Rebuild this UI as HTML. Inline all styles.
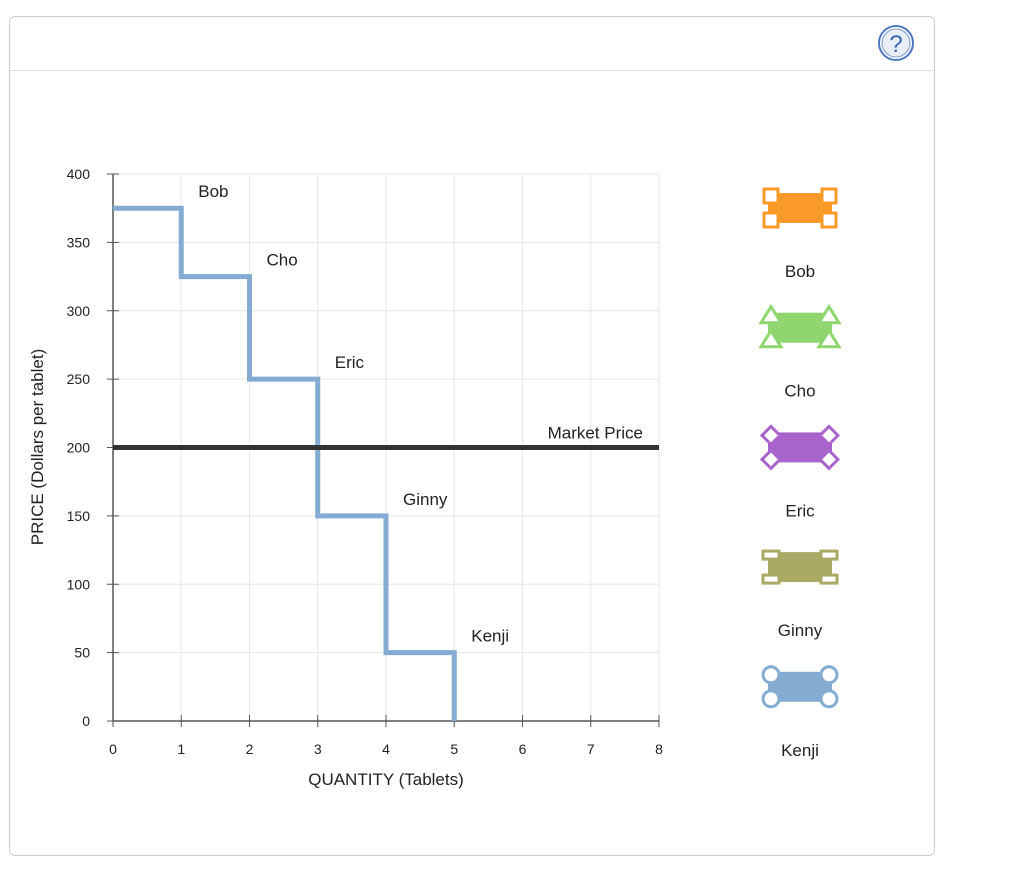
<!DOCTYPE html>
<html><head><meta charset="utf-8"><style>
body{margin:0;background:#fff;font-family:"Liberation Sans",Arial,sans-serif;}
#frame{position:absolute;left:9px;top:16px;width:924px;height:838px;border:1px solid #ccc;border-radius:6px;}
#hdr{position:absolute;left:10px;top:70px;width:923px;height:1px;background:#ddd;}
</style></head><body>
<div id="frame"></div>
<div id="hdr"></div>
<svg width="1024" height="887" style="position:absolute;left:0;top:0" id="svg">
<g>
<circle cx="896" cy="43" r="17" fill="#fff" stroke="#4a78c2" stroke-width="2"/>
<circle cx="896" cy="43" r="14" fill="#e8eef8" stroke="#7a9ad2" stroke-width="1"/>
<text x="896" y="52" font-size="24" text-anchor="middle" fill="#3a66b0" font-family="Liberation Sans">?</text>
</g>
</svg>
<script>
const xTicks=[0,1,2,3,4,5,6,7,8];
const yTicks=[0,50,100,150,200,250,300,350,400];
const stepQ=[0,1,2,3,4,5];
const stepP=[375,325,250,150,50,0];
const names=["Bob","Cho","Eric","Ginny","Kenji"];
const marketPrice=200;
const X=v=>113+v*68.25, Y=v=>721-v*1.3675;
const s=document.getElementById('svg'),NS="http://www.w3.org/2000/svg";
function mk(t,a,p){const e=document.createElementNS(NS,t);for(const k in a)e.setAttribute(k,a[k]);(p||s).appendChild(e);return e;}
xTicks.forEach(v=>{let l=mk('line',{x1:X(v),x2:X(v),y1:Y(400),y2:Y(0),stroke:'#e6e6e6'});

let t=mk('line',{x1:X(v),x2:X(v),y1:Y(0)-6,y2:Y(0)+6,stroke:'#555'});

let tx=mk('text',{x:X(v),y:754,'font-size':14,'text-anchor':'middle',fill:'#222'});tx.textContent=v;
});
yTicks.forEach(v=>{let l=mk('line',{x1:X(0),x2:X(8),y1:Y(v),y2:Y(v),stroke:'#e6e6e6'});

let t=mk('line',{x1:X(0)-6,x2:X(0)+6,y1:Y(v),y2:Y(v),stroke:'#555'});

let tx=mk('text',{x:90,y:Y(v)+5,'font-size':14,'text-anchor':'end',fill:'#222'});tx.textContent=v;
});
let ax=mk('line',{x1:X(0),x2:X(0),y1:Y(400),y2:Y(0),stroke:'#555','stroke-width':1.5});

let ax2=mk('line',{x1:X(0),x2:X(8),y1:Y(0),y2:Y(0),stroke:'#555','stroke-width':1.5});

let d='M'+X(stepQ[0])+' '+Y(stepP[0]);
for(let i=1;i<stepQ.length;i++){d+=' L'+X(stepQ[i])+' '+Y(stepP[i-1])+' L'+X(stepQ[i])+' '+Y(stepP[i]);}
let p=mk('path',{d:d,fill:'none',stroke:'#84acd3','stroke-width':5});

let mp=mk('line',{x1:X(0),x2:X(8),y1:Y(marketPrice),y2:Y(marketPrice),stroke:'#333','stroke-width':5});

let mpt=mk('text',{x:643,y:Y(marketPrice)-9,'font-size':17,'text-anchor':'end',fill:'#222'});mpt.textContent='Market Price';

names.forEach((n,i)=>{let t=mk('text',{x:X(i+1)+17,y:Y(stepP[i])-11,'font-size':17,fill:'#222'});t.textContent=n;
});
let xt=mk('text',{x:386,y:785,'font-size':17,'text-anchor':'middle',fill:'#222'});xt.textContent='QUANTITY (Tablets)';

let yt=mk('text',{x:0,y:0,'font-size':17,'text-anchor':'middle',fill:'#222',transform:'translate(43,447) rotate(-90)'});yt.textContent='PRICE (Dollars per tablet)';

const cols=['#fa9a28','#8ed66d','#a964cc','#aaaa66','#84acd3'];
names.forEach((n,i)=>{const cy=208+i*119.7,cx=800;
const g=mk('g',{});


mk('rect',{x:cx-32,y:cy-15,width:64,height:30,fill:cols[i]},g);
[[-29,-12],[29,-12],[-29,12],[29,12]].forEach(([dx,dy])=>{const x=cx+dx,y=cy+dy;
if(i==0)mk('rect',{x:x-7,y:y-7,width:14,height:14,fill:'#fff',stroke:cols[i],'stroke-width':3},g);
else if(i==1)mk('polygon',{points:`${x},${y-9} ${x+10},${y+7} ${x-10},${y+7}`,fill:'#fff',stroke:cols[i],'stroke-width':3},g);
else if(i==2)mk('polygon',{points:`${x},${y-9} ${x+9},${y} ${x},${y+9} ${x-9},${y}`,fill:'#fff',stroke:cols[i],'stroke-width':3},g);
else if(i==3)mk('rect',{x:x-8,y:y-4,width:16,height:8,fill:'#fff',stroke:cols[i],'stroke-width':3},g);
else mk('circle',{cx:x,cy:y,r:8,fill:'#fff',stroke:cols[i],'stroke-width':3},g);});
const t=mk('text',{x:cx,y:cy+69,'font-size':17,'text-anchor':'middle',fill:'#222'},g);t.textContent=n;});
</script>
</body></html>
